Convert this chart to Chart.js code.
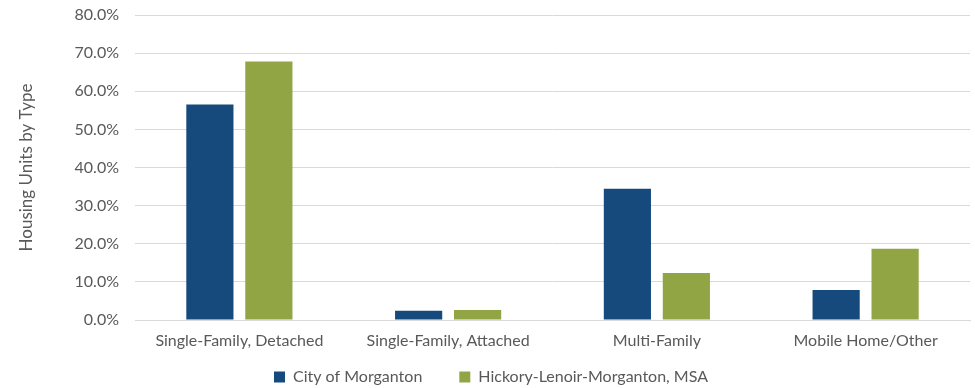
<!DOCTYPE html>
<html>
<head>
<meta charset="utf-8">
<script src="https://cdn.jsdelivr.net/npm/chart.js@4"></script>
<style>
  html, body { margin: 0; padding: 0; background: #fff; }
  #wrap { width: 975px; height: 388px; position: relative; }
</style>
</head>
<body>
<div id="wrap"><canvas id="chart"></canvas></div>
<script>
// housing units by type, share of total (%)
const categories = ['Single-Family, Detached', 'Single-Family, Attached', 'Multi-Family', 'Mobile Home/Other'];
const morganton = [56.5, 2.4, 34.4, 7.9];
const msa = [67.8, 2.6, 12.3, 18.7];
const seriesNames = ['City of Morganton', 'Hickory-Lenoir-Morganton, MSA'];

const FONT = 'Lato, "Open Sans", sans-serif';
const GREY = '#595959';
const LEGEND_PAD = 37;

// keep the wide item spacing but make the legend box shorter,
// drawn a bit higher so it sits near the bottom edge
const legendFit = {
  id: 'legendFit',
  beforeInit(chart) {
    const lg = chart.legend;
    const fit = lg.fit, draw = lg.draw;
    lg.fit = function () { fit.call(this); this.height = 38; };
    lg.draw = function () {
      const t = this.top;
      this.top = t - (LEGEND_PAD - 19);
      draw.call(this);
      this.top = t;
    };
  }
};

new Chart(document.getElementById('chart'), {
  type: 'bar',
  data: {
    labels: categories,
    datasets: [
      { label: seriesNames[0], data: morganton, backgroundColor: '#174a7c' },
      { label: seriesNames[1], data: msa, backgroundColor: '#91a544' }
    ]
  },
  plugins: [legendFit],
  options: {
    responsive: true,
    maintainAspectRatio: false,
    animation: false,
    layout: { padding: { left: 12, right: 5, top: 0, bottom: 0 } },
    datasets: { bar: { categoryPercentage: 0.565, barPercentage: 0.8 } },
    plugins: {
      legend: {
        position: 'bottom',
        labels: {
          color: GREY, boxWidth: 11, boxHeight: 11, padding: LEGEND_PAD,
          font: { family: FONT, size: 16 }
        }
      },
      tooltip: { enabled: false }
    },
    scales: {
      x: {
        grid: { display: false },
        border: { color: '#d9d9d9' },
        afterFit: s => { s.height = 30; },
        ticks: { color: GREY, font: { family: FONT, size: 16 }, maxRotation: 0, padding: 3 }
      },
      y: {
        min: 0, max: 80,
        afterFit: s => { s.width = 123; s.paddingTop = 15; },
        ticks: {
          stepSize: 10, color: GREY, padding: 16,
          font: { family: FONT, size: 16 },
          callback: v => v.toFixed(1) + '%'
        },
        grid: { color: '#d9d9d9', drawTicks: false },
        border: { display: false },
        title: {
          display: true, text: 'Housing Units by Type', color: GREY,
          font: { family: FONT, size: 17 }, padding: { bottom: 0 }
        }
      }
    }
  }
});
</script>
</body>
</html>
